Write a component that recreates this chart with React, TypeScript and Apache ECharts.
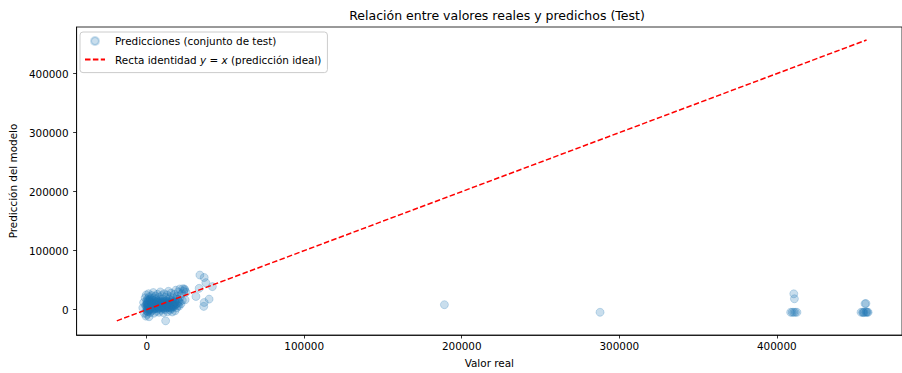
import React, { useEffect, useRef } from "react";
import * as echarts from "echarts";

const FONT = "DejaVu Sans";
const FS = 10.42;

const chartTitle = "Relación entre valores reales y predichos (Test)";
const xAxisName = "Valor real";
const yAxisName = "Predicción del modelo";
const scatterName = "Predicciones (conjunto de test)";
const lineName = "Recta identidad y = x (predicción ideal)";

const xTicks = [0, 100000, 200000, 300000, 400000];
const yTicks = [0, 100000, 200000, 300000, 400000];

// [valor real, predicción] — main cluster
const clusterPoints: [number, number][] = [
  [-2500, 3000], [-2000, 12000], [-1500, -6000], [-1000, 20000], [-800, 7000],
  [-500, -11000], [-300, 25000], [0, -2000], [0, 15000], [200, 9000],
  [300, -8000], [500, 3000], [600, 18000], [800, -4000], [1000, 11000],
  [1200, 27000], [1300, 5000], [1500, -12000], [1600, 22000], [1800, 0],
  [2000, 14000], [2000, 8000], [2200, -5000], [2400, 19000], [2500, 3500],
  [3000, 10000], [3000, -2500], [3200, 24000], [3500, 16000], [3600, 5000],
  [4000, 0], [4000, 12000], [4200, 29000], [4500, 20000], [4600, -6000],
  [5000, 7000], [5000, 15000], [5300, 2000], [5500, 23000], [5800, 10000],
  [6000, -3000], [6000, 18000], [6300, 5500], [6500, 13000], [6800, 26000],
  [7000, 1000], [7000, 8500], [7500, 16000], [7800, -4500], [8000, 21000],
  [8000, 4000], [8300, 11000], [8600, 30000], [9000, 7000], [9000, -1000],
  [9300, 14000], [9500, 24000], [10000, 2500], [10000, 10000], [10300, 18000],
  [10600, -5000], [11000, 6000], [11000, 27000], [11300, 13000], [11600, 0],
  [12000, 21000], [12000, 8000], [12000, -19000], [12500, 15000], [12800, 3000],
  [13000, 25000], [13200, -3500], [13500, 10000], [13800, 31000], [14000, 5000],
  [14200, 18000], [14500, 12500], [14800, -1000], [15000, 22000], [15200, 7500],
  [15500, 28000], [15800, 2000], [16000, 15000], [16200, -4000], [16500, 10000],
  [16800, 20000], [17000, 4500], [17500, 26000], [17800, 13000], [18000, -2000],
  [18200, 8000], [18500, 33000], [18800, 18000], [19000, 3000], [19300, 23000],
  [19600, 11000], [20000, 30000], [20300, 15000], [20600, 6000], [21000, 35000],
  [21300, 21000], [21800, 10000], [22200, 27000], [22600, 16000], [23000, 35500],
  [23500, 31000], [24000, 33500], [24400, 16700], [25000, 29500],
  [1000, 6000], [3000, 4000], [5000, 1000], [7000, 12000], [9000, 3000],
  [11000, 9000], [13000, 6000], [15000, 11000], [17000, 8000], [2000, 1000],
  [4000, 8000], [6000, 6000], [8000, 9000], [10000, 5000], [12000, 12000],
  [14000, 9000], [16000, 5000], [18000, 12000], [1000, -1000], [3000, 13000],
  [500, 1000], [1500, 9000], [2500, 6500], [3500, 2000], [4500, 10500],
  [5500, 4500], [6500, 9500], [7500, 3500], [8500, 7000], [9500, 12000],
  [10500, 7500], [11500, 4000], [12500, 10500], [13500, 7000], [14500, 3000],
  [15500, 9000], [16500, 13000], [17500, 6000], [0, 4000], [1000, 13000],
  [2000, 17000], [3000, 7000], [4000, 15000], [5000, 11000], [6000, 2500],
  [7000, 15000], [8000, 13000], [9000, 10000], [10000, 14000], [11000, 1500],
  [12000, 4500], [13000, 13500], [14000, 14500], [15000, 5500], [16000, 8000],
  [0, 10000], [500, -3000], [1500, 2500], [2500, 11500], [3500, 8500],
  [800, 7500], [1800, 4500], [2800, 9500], [3800, 5500], [4800, 3000],
  [5800, 7500], [6800, 4500], [7800, 10500], [8800, 5500], [9800, 8000],
  [10800, 11500], [11800, 6500], [12800, 8500], [13800, 4000], [14800, 10000],
  [15800, 12500], [16800, 6500], [0, 7000], [200, 12500], [1200, 16000],
  [2200, 2000], [3200, 11000], [4200, 6000], [5200, 8500], [6200, 12000],
  [7200, 6500], [8200, 2000], [9200, 5500], [10200, 12000], [11200, 3500],
  [12200, 9500], [13200, 11500], [14200, 6500], [15200, 2500], [16200, 11000],
  [17200, 10500], [18800, 9500], [19800, 7000], [20800, 12500], [19500, 17500],
];

// sparse points beyond the cluster
const sparsePoints: [number, number][] = [
  [31250, 22300], [33300, 36100], [33750, 58600], [36500, 54500], [37500, 45700],
  [41700, 39000], [39600, 17800], [36500, 12200], [36200, 5500], [24000, 35000],
];

// far outliers
const outlierPoints: [number, number][] = [
  [189000, 8400], [287800, -4500],
  [410800, 26800], [411200, 18400],
  [408800, -4500], [409800, -4500], [410800, -4500], [411800, -4500], [412800, -4500],
  [456000, 10000], [456600, 10500],
  [453500, -4500], [454500, -4500], [455500, -4500], [456500, -4500],
  [457500, -4500], [458000, -4500], [455000, -5000], [457000, -4000],
];

const identityEnds = [-19000, 457000];

export default function App() {
  const ref = useRef<HTMLDivElement>(null);
  useEffect(() => {
    if (!ref.current) return;
    const chart = echarts.init(ref.current, undefined, { renderer: "svg" });
    const allPoints = [...clusterPoints, ...sparsePoints, ...outlierPoints];
    chart.setOption({
      animation: false,
      backgroundColor: "#ffffff",
      textStyle: { fontFamily: FONT },
      title: {
        text: chartTitle,
        left: 492,
        textAlign: "center",
        top: 4,
        textStyle: { fontFamily: FONT, fontSize: 12.5, fontWeight: "normal", color: "#000" },
      },
      legend: {
        left: 80,
        top: 32,
        orient: "vertical",
        backgroundColor: "rgba(255,255,255,0.8)",
        borderColor: "#cccccc",
        borderWidth: 1,
        borderRadius: 3,
        padding: [3, 6, 7, 4],
        itemGap: 6.6,
        itemWidth: 20,
        itemHeight: 8,
        data: [
          { name: scatterName, icon: "circle" },
          { name: lineName, itemStyle: { opacity: 0 } },
        ],
        formatter: (name: string) =>
          name === lineName
            ? "{s|}{t|Recta identidad }{i|y}{t| = }{i|x}{t| (predicción ideal)}"
            : "{s|}{t|" + name + "}",
        textStyle: {
          fontFamily: FONT,
          fontSize: FS,
          lineHeight: 12,
          color: "#000",
          rich: {
            s: { width: 5 },
            t: { fontFamily: FONT, fontSize: FS, color: "#000" },
            i: { fontFamily: FONT, fontSize: FS, fontStyle: "italic", color: "#000" },
          },
        },
      },
      grid: {
        left: 74,
        top: 27,
        width: 838,
        height: 312,
        show: true,
        borderColor: "#000",
        borderWidth: 0.8,
        containLabel: false,
      },
      xAxis: {
        type: "value",
        min: -44500,
        max: 479500,
        name: xAxisName,
        nameLocation: "middle",
        nameGap: 23,
        nameTextStyle: { fontFamily: FONT, fontSize: FS, color: "#000" },
        splitLine: { show: false },
        axisLine: { show: true, onZero: false, lineStyle: { color: "#000", width: 0.8 } },
        axisTick: { show: true, customValues: xTicks, length: 3.5, lineStyle: { color: "#000", width: 0.8 } },
        axisLabel: {
          customValues: xTicks,
          formatter: (v: number) => String(v),
          fontFamily: FONT,
          fontSize: FS,
          color: "#000",
          margin: 6,
        },
      },
      yAxis: {
        type: "value",
        min: -43000,
        max: 479000,
        name: yAxisName,
        nameLocation: "middle",
        nameRotate: 90,
        nameGap: 49,
        nameTextStyle: { fontFamily: FONT, fontSize: FS, color: "#000" },
        splitLine: { show: false },
        axisLine: { show: true, onZero: false, lineStyle: { color: "#000", width: 0.8 } },
        axisTick: { show: true, customValues: yTicks, length: 3.5, lineStyle: { color: "#000", width: 0.8 } },
        axisLabel: {
          customValues: yTicks,
          formatter: (v: number) => String(v),
          fontFamily: FONT,
          fontSize: FS,
          color: "#000",
          margin: 8,
        },
      },
      series: [
        {
          name: scatterName,
          type: "scatter",
          data: allPoints,
          symbol: "circle",
          symbolSize: 8,
          z: 2,
          itemStyle: {
            color: "rgba(31,119,180,0.3)",
            borderColor: "rgba(31,119,180,0.3)",
            borderWidth: 1,
          },
        },
        {
          name: lineName,
          type: "line",
          data: identityEnds.map((v) => [v, v]),
          showSymbol: false,
          symbol: "none",
          z: 3,
          lineStyle: { color: "#ff0000", width: 1.5, type: [5.5, 2.4] },
          itemStyle: { color: "#ff0000" },
        },
      ],
    });
    return () => chart.dispose();
  }, []);
  return (
    <div
      ref={ref}
      style={{ position: "absolute", left: 0, top: 0, width: 902, height: 373 }}
    />
  );
}
